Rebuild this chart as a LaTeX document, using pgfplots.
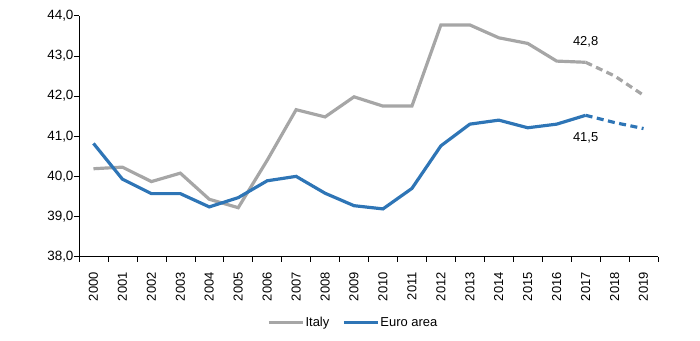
\documentclass[border=0pt]{standalone}
\usepackage{fontspec}
\setmainfont{Liberation Sans}
\usepackage{pgfplots}
\pgfplotsset{compat=1.18}
\definecolor{itgray}{HTML}{A6A6A6}
\definecolor{eublue}{HTML}{2E75B6}
\newcommand{\fs}{\fontsize{13}{15}\selectfont}
\begin{document}
\begin{tikzpicture}
\path[use as bounding box] (-79bp,-84.3bp) rectangle (621bp,256.7bp);
\begin{axis}[
  at={(0,0)}, anchor=south west,
  scale only axis, width=579bp, height=241bp,
  xmin=-0.5, xmax=19.5, ymin=38, ymax=44,
  axis x line*=bottom, axis y line*=left,
  axis line style={black, line width=0.6pt},
  x axis line style={-}, y axis line style={-},
  xtick={0,...,19},
  xticklabels={2000,2001,2002,2003,2004,2005,2006,2007,2008,2009,2010,2011,2012,2013,2014,2015,2016,2017,2018,2019},
  major x tick style={draw=none},
  minor xtick={-0.5,0.5,...,19.5},
  minor tick length=5bp,
  minor x tick style={black, line width=0.6pt},
  x tick label style={rotate=90, anchor=east, font=\fs, xshift=-7bp},
  ytick={38,39,...,44},
  tick align=outside,
  major tick length=5bp,
  y tick style={black, line width=0.6pt},
  y tick label style={font=\fontsize{13.5}{15}\selectfont, xshift=3bp},
  /pgf/number format/.cd, fixed, fixed zerofill, precision=1, use comma, assume math mode=true,
  /pgfplots/.cd,
  legend style={at={(0.473,-0.274)}, anchor=center, draw=none, legend columns=2, font=\fs, inner sep=0pt, nodes={inner sep=1bp}, /tikz/every even column/.append style={column sep=12bp}},
  legend image code/.code={\draw[#1, line width=3.2pt] (0bp,0bp) -- (34bp,0bp);},
  clip=false,
]
\addplot[itgray, line width=3.2pt] coordinates {
(0,40.19) (1,40.23) (2,39.87) (3,40.08) (4,39.43) (5,39.22) (6,40.40) (7,41.66) (8,41.48) (9,41.98) (10,41.75) (11,41.75) (12,43.77) (13,43.77) (14,43.45) (15,43.31) (16,42.87) (17,42.84)};
\addlegendentry{Italy}
\addplot[eublue, line width=3.2pt] coordinates {
(0,40.82) (1,39.93) (2,39.57) (3,39.57) (4,39.24) (5,39.47) (6,39.89) (7,40.00) (8,39.58) (9,39.27) (10,39.19) (11,39.70) (12,40.76) (13,41.30) (14,41.40) (15,41.21) (16,41.30) (17,41.52)};
\addlegendentry{Euro area}
\addplot[itgray, line width=3.2pt, dash pattern=on 7bp off 4.5bp, forget plot] coordinates {
(17,42.84) (18,42.50) (19,42.02)};
\addplot[eublue, line width=3.2pt, dash pattern=on 7bp off 4.5bp, forget plot] coordinates {
(17,41.52) (18,41.34) (19,41.19)};
\node[font=\fs] at (axis cs:17,43.35) {42,8};
\node[font=\fs] at (axis cs:17,40.96) {41,5};
\end{axis}
\end{tikzpicture}
\end{document}
